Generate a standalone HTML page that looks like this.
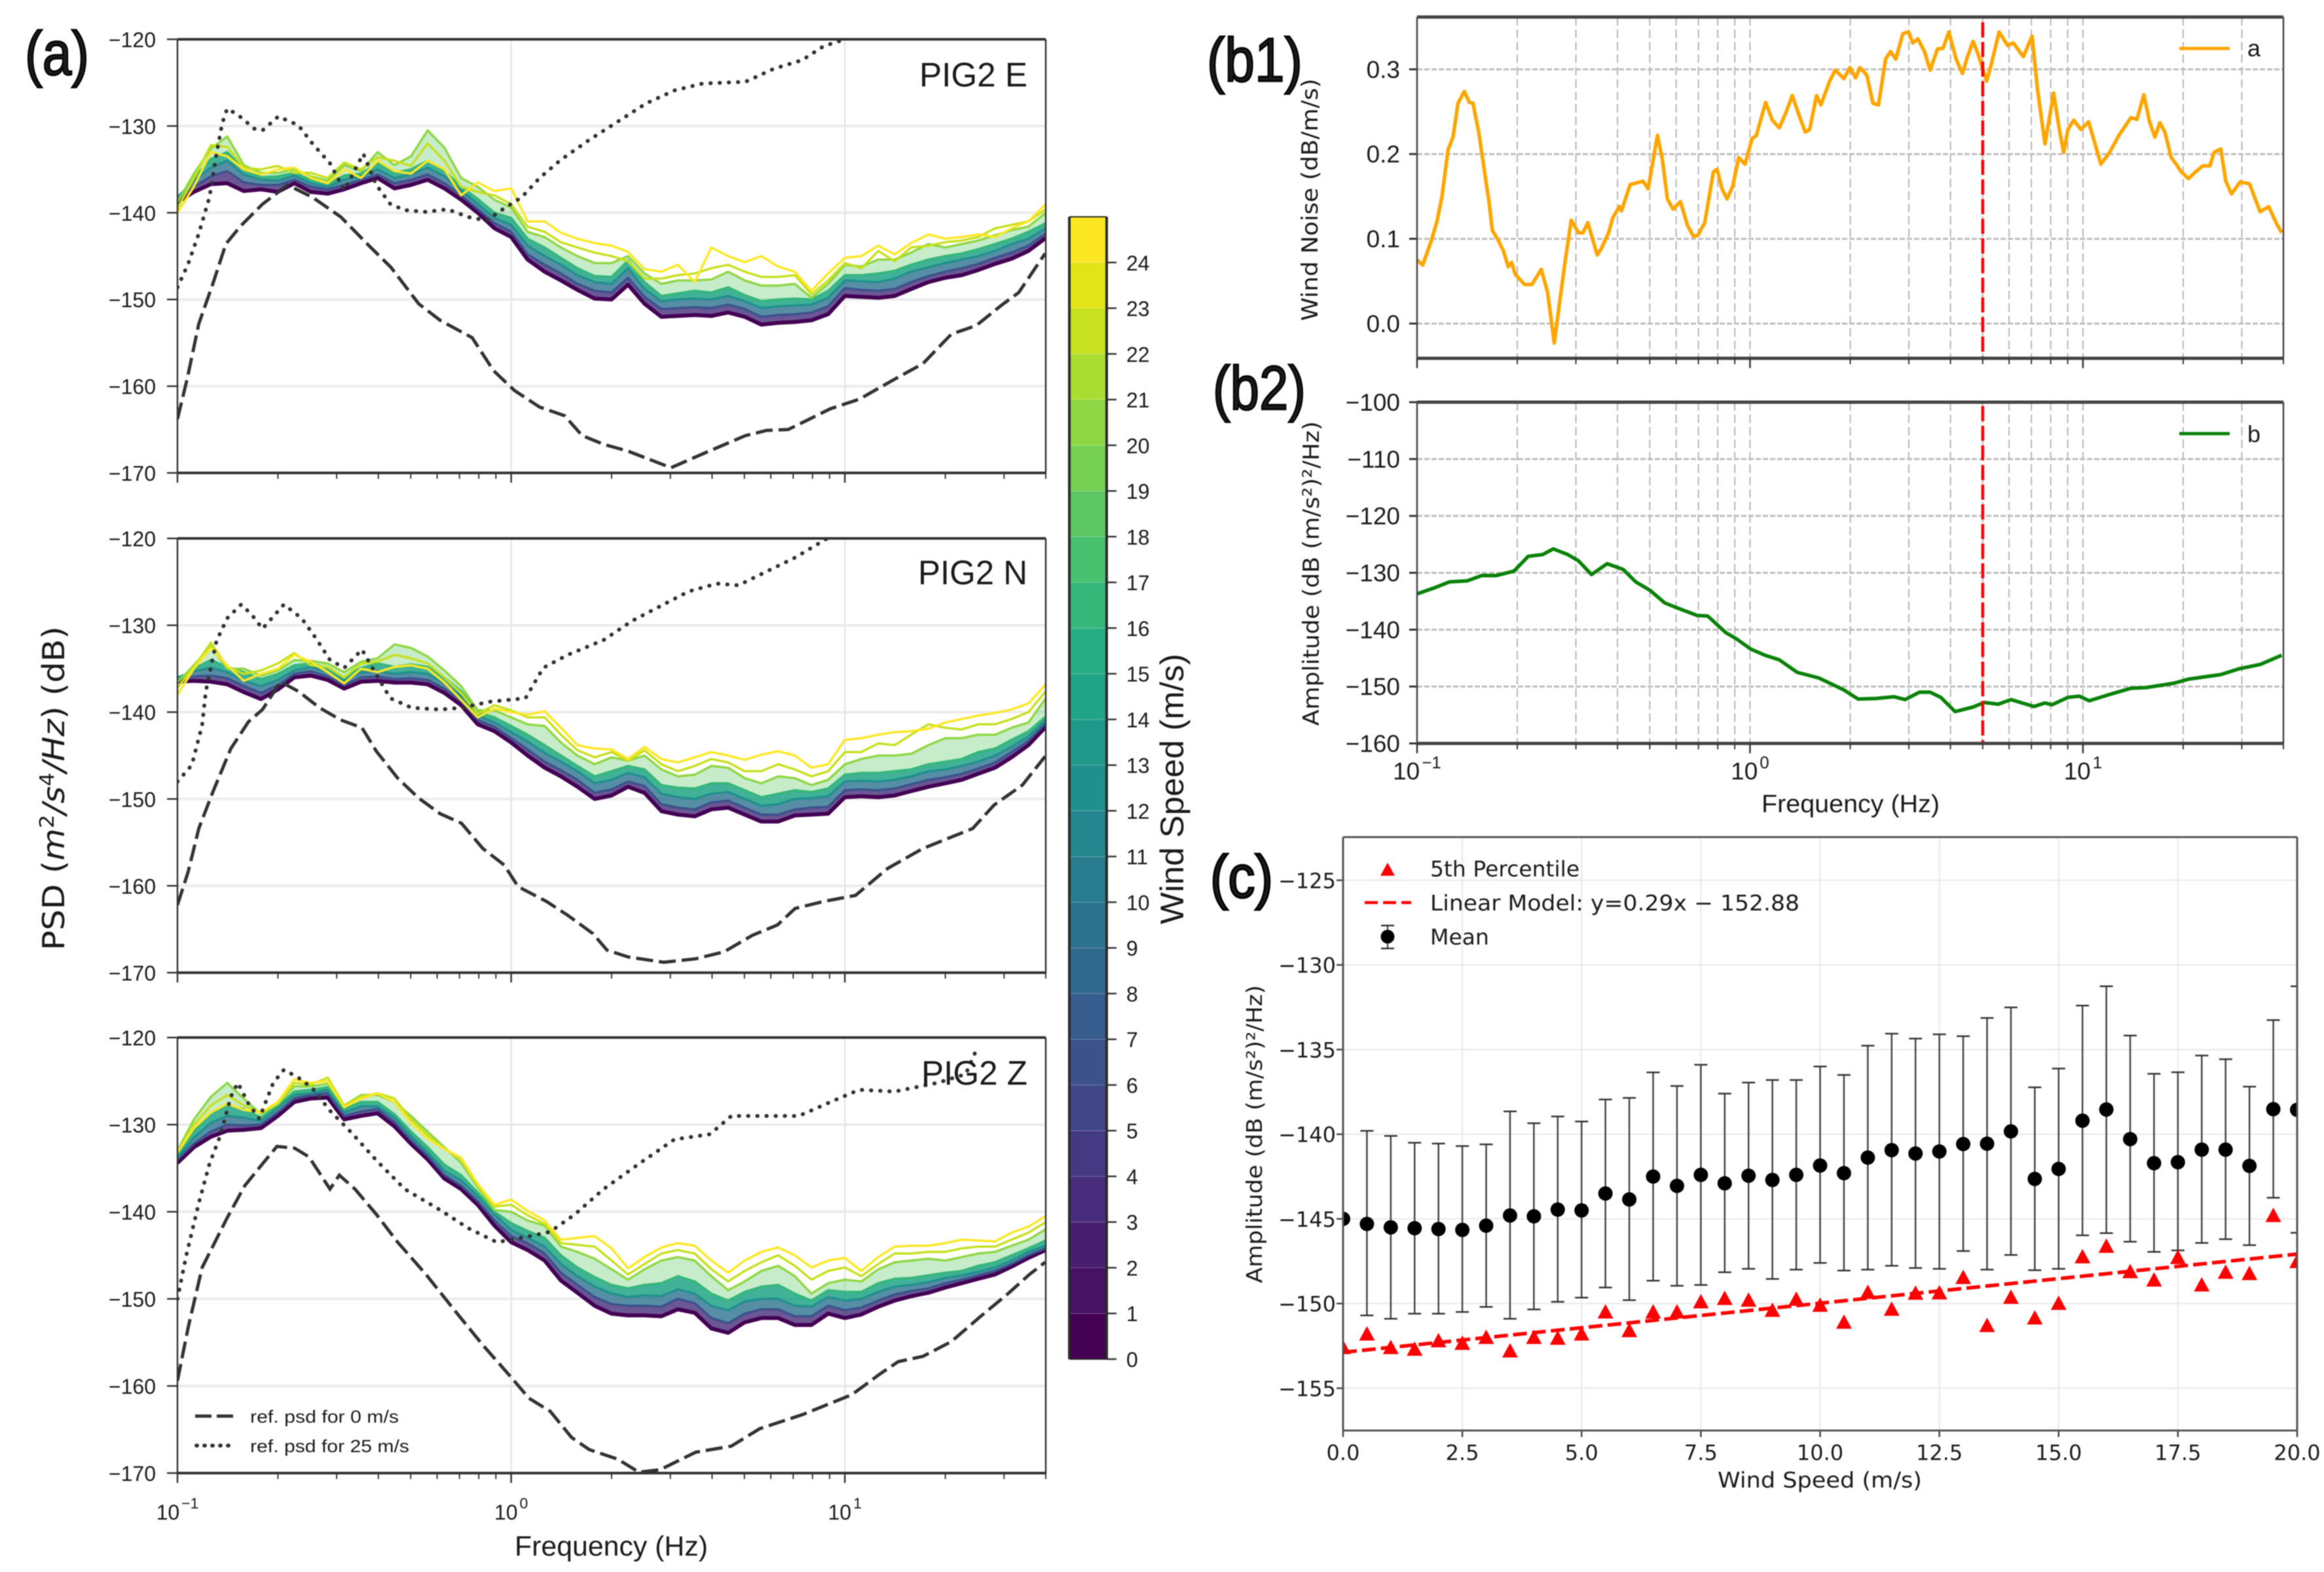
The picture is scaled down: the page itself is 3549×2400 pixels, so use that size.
<!DOCTYPE html>
<html lang="en"><head><meta charset="utf-8"><title>Wind noise PSD figure</title>
<style>html,body{margin:0;padding:0;background:#fff}svg{display:block;filter:blur(0.8px)}text{font-family:"Liberation Sans",sans-serif;fill:#1a1a1a}.dj{font-family:"DejaVu Sans",sans-serif}</style></head>
<body>
<svg id="fig" xmlns="http://www.w3.org/2000/svg" width="3549" height="2400" viewBox="0 0 3549 2400">
<defs>
<clipPath id="clipE"><rect x="271" y="60" width="1326" height="662"/></clipPath>
<clipPath id="clipN"><rect x="271" y="822" width="1326" height="663"/></clipPath>
<clipPath id="clipZ"><rect x="271" y="1584" width="1326" height="665"/></clipPath>
<clipPath id="clipB1"><rect x="2164" y="26" width="1323" height="521"/></clipPath>
<clipPath id="clipB2"><rect x="2164" y="614" width="1323" height="521"/></clipPath>
<clipPath id="clipC"><rect x="2051" y="1278" width="1457" height="906"/></clipPath>
</defs>
<rect x="0" y="0" width="3549" height="2400" fill="#fff"/>
<g id="panelE"></g>
<g id="panelN"></g>
<g id="panelZ"></g>
<g id="colorbar"></g>
<g id="panelB1"></g>
<g id="panelB2"></g>
<g id="panelC"></g>

<text x="38" y="114" font-size="95" textLength="98" lengthAdjust="spacingAndGlyphs" stroke="#000" stroke-width="2.5">(a)</text>
<text x="1843" y="124" font-size="95" textLength="146" lengthAdjust="spacingAndGlyphs" stroke="#000" stroke-width="2.5">(b1)</text>
<text x="1852" y="625" font-size="95" textLength="142" lengthAdjust="spacingAndGlyphs" stroke="#000" stroke-width="2.5">(b2)</text>
<text x="1848" y="1370" font-size="92" textLength="96" lengthAdjust="spacingAndGlyphs" stroke="#000" stroke-width="3">(c)</text>

<text x="1404" y="132" font-size="52" textLength="165" lengthAdjust="spacingAndGlyphs">PIG2 E</text>
<text x="1402" y="892" font-size="52" textLength="167" lengthAdjust="spacingAndGlyphs">PIG2 N</text>
<text x="1407" y="1656" font-size="52" textLength="162" lengthAdjust="spacingAndGlyphs">PIG2 Z</text>

<text class="dj" transform="translate(98,1451) rotate(-90)" font-size="46" textLength="495" lengthAdjust="spacingAndGlyphs">PSD (<tspan font-style="italic">m</tspan><tspan font-size="30" dy="-16">2</tspan><tspan font-style="italic" dy="16">/s</tspan><tspan font-size="30" dy="-16">4</tspan><tspan font-style="italic" dy="16">/Hz</tspan>) (dB)</text>
<text x="786" y="2375" font-size="43" textLength="295" lengthAdjust="spacingAndGlyphs">Frequency (Hz)</text>
<text transform="translate(1807,1411) rotate(-90)" font-size="50" textLength="413" lengthAdjust="spacingAndGlyphs">Wind Speed (m/s)</text>

<g>
<line x1="298" y1="2162" x2="356" y2="2162" stroke="#333" stroke-width="5" stroke-dasharray="25 8"/>
<text x="382" y="2172" font-size="27" textLength="227" lengthAdjust="spacingAndGlyphs">ref. psd for 0 m/s</text>
<line x1="300" y1="2207" x2="356" y2="2207" stroke="#333" stroke-width="6" stroke-linecap="round" stroke-dasharray="1 11"/>
<text x="382" y="2217" font-size="27" textLength="243" lengthAdjust="spacingAndGlyphs">ref. psd for 25 m/s</text>
</g>

<text class="dj" transform="translate(2012,490) rotate(-90)" font-size="34" textLength="370" lengthAdjust="spacingAndGlyphs">Wind Noise (dB/m/s)</text>
<text class="dj" transform="translate(2014,1108) rotate(-90)" font-size="34" textLength="465" lengthAdjust="spacingAndGlyphs">Amplitude (dB (m/s²)²/Hz)</text>
<text x="2690" y="1240" font-size="38" textLength="272" lengthAdjust="spacingAndGlyphs">Frequency (Hz)</text>
<g>
<line x1="3328" y1="74" x2="3405" y2="74" stroke="#ffa500" stroke-width="5"/>
<text x="3432" y="86" font-size="36">a</text>
</g>
<g>
<line x1="3328" y1="662" x2="3405" y2="662" stroke="#0a820a" stroke-width="5"/>
<text x="3432" y="675" font-size="36">b</text>
</g>

<text class="dj" transform="translate(1927,1959) rotate(-90)" font-size="33" textLength="455" lengthAdjust="spacingAndGlyphs">Amplitude (dB (m/s²)²/Hz)</text>
<text class="dj" x="2623" y="2271" font-size="33" textLength="312" lengthAdjust="spacingAndGlyphs">Wind Speed (m/s)</text>
<g>
<polygon points="2119,1317 2130,1337 2108,1337" fill="#f00"/>
<text class="dj" x="2184" y="1338" font-size="33">5th Percentile</text>
<line x1="2084" y1="1378" x2="2155" y2="1378" stroke="#f00" stroke-width="4.5" stroke-dasharray="20 8"/>
<text class="dj" x="2184" y="1390" font-size="33" textLength="564" lengthAdjust="spacingAndGlyphs">Linear Model: y=0.29x − 152.88</text>
<line x1="2119" y1="1413" x2="2119" y2="1448" stroke="#333" stroke-width="2"/>
<line x1="2109" y1="1413" x2="2129" y2="1413" stroke="#333" stroke-width="2.5"/>
<line x1="2109" y1="1448" x2="2129" y2="1448" stroke="#333" stroke-width="2.5"/>
<circle cx="2119" cy="1430" r="10.5" fill="#000"/>
<text class="dj" x="2184" y="1442" font-size="33">Mean</text>
</g>
</svg>
<script>
// ---------- Panel (a): shared frequency grid (Hz) ----------
const windFreqHz = [0.1,0.112,0.126,0.141,0.158,0.178,0.2,0.224,0.251,0.282,0.316,0.355,0.398,0.447,0.501,0.562,0.631,0.708,0.794,0.891,1,1.12,1.26,1.41,1.58,1.78,2,2.24,2.51,2.82,3.16,3.55,3.98,4.47,5.01,5.62,6.31,7.08,7.94,8.91,10,11.2,12.6,14.1,15.8,17.8,20,22.4,25.1,28.2,31.6,35.5,40];
const windLevels = [0,6,12,16,20,22,24];
const viridis = ["#440154","#471164","#481f70","#472d7b","#443a83","#404688","#3b528b","#365d8d","#31688e","#2c728e","#287c8e","#24868e","#21908c","#1f9a8a","#20a486","#27ad81","#35b779","#47c16e","#5dc863","#75d054","#8fd744","#aadc32","#c7e020","#e3e418","#fde725"];

// East
const eW0 = [-138.8,-137.6,-136.7,-136.6,-137.5,-137.3,-137.6,-136.6,-137.6,-137.8,-137.3,-136.6,-136,-137.2,-136.8,-136.2,-137.2,-138.5,-140,-141.8,-142.8,-145.4,-146.8,-147.8,-148.9,-149.9,-150,-148.3,-150.5,-152,-151.9,-151.8,-151.9,-151.5,-152,-152.9,-152.7,-152.6,-152.4,-151.7,-149.6,-149.7,-149.8,-149.6,-148.8,-148,-147.5,-147.2,-146.6,-145.9,-145.3,-144.4,-142.9];
const eW6 = [-138.5,-137,-135.8,-135.2,-136.5,-136.8,-136.8,-136.2,-137,-137.3,-136.8,-136.2,-135.6,-136.6,-136.2,-135.6,-136.6,-138,-139.6,-141.2,-142.2,-144.8,-146,-147,-148.2,-149,-149.2,-147.5,-149.7,-151.1,-151,-150.9,-151,-150.6,-151.1,-152,-151.8,-151.7,-151.5,-150.8,-148.7,-148.9,-149,-148.8,-148,-147.3,-146.8,-146.4,-145.9,-145.2,-144.6,-143.8,-142.4];
const eW12 = [-138.2,-136.3,-134.8,-134,-135.6,-136.2,-136.3,-135.7,-136.6,-137,-136.2,-135.8,-135,-136,-135.6,-134.8,-135.8,-137.4,-139,-140.6,-141.4,-143.8,-145,-146,-147.2,-148,-148.2,-146.4,-148.8,-150.2,-150,-149.9,-150,-149.6,-150.2,-151,-150.8,-150.7,-150.6,-149.8,-147.8,-147.9,-148,-147.6,-146.8,-146.3,-145.8,-145.4,-145,-144.4,-143.6,-143,-141.8];
const eW16 = [-138.5,-136,-133.8,-133,-135,-135.9,-135.8,-135.4,-136.2,-136.7,-135.7,-135.5,-134.3,-135.4,-135,-134,-135.2,-137,-138.4,-140,-140.6,-143,-144,-145.2,-146.4,-147.3,-147.4,-145.5,-148,-149.6,-149.3,-149,-149.2,-148.6,-149.5,-150.2,-150,-149.9,-150,-149,-147.2,-147.2,-147,-146.7,-146,-145.4,-145,-144.7,-144.2,-143.6,-143,-142.2,-141.2];
const eW20 = [-138.8,-135.5,-132.6,-131.2,-134.5,-135.4,-135.4,-135,-135.8,-136.3,-134.5,-135.2,-133,-134.5,-133.5,-130.5,-132.5,-136,-137,-138.5,-139.4,-142.2,-142.8,-144,-145,-145.8,-145.8,-145,-147,-148.2,-147.8,-147.8,-147.7,-146.8,-147.8,-148.4,-148.4,-148.2,-149.8,-148.2,-146,-146.2,-145.4,-145.4,-144.6,-143.6,-144,-143.6,-143.2,-142.6,-142,-141.6,-140];
const eW22 = [-139.5,-136,-132.2,-132.4,-134.8,-135,-134.6,-135.4,-135.4,-136,-134.2,-135,-133.6,-134,-134.6,-132,-134,-137,-137.6,-138,-139,-141.6,-142.2,-143.4,-144,-144.6,-145,-145.6,-147.6,-147.6,-147.2,-147,-146.4,-146,-146.8,-147.4,-147.4,-147.2,-149.4,-147.8,-145.8,-146.4,-144.4,-145.6,-144,-143.8,-143.4,-143.2,-142.8,-141.8,-141.4,-141,-139.6];
const eW24 = [-140,-137,-133,-133.5,-135,-135.6,-135,-134.8,-136,-136.6,-135,-136,-134,-135.2,-135.5,-134,-135,-138,-136.5,-137.5,-137.2,-141,-141,-142.3,-143,-143.5,-143.8,-144.5,-146.5,-146.8,-146,-148,-144,-145,-145.7,-145,-146.2,-146.8,-149,-147,-145.2,-145,-143.8,-144.8,-143.5,-142.5,-143,-142.8,-142.5,-142.8,-141.8,-141,-139];
const eRefDashExp = [-1,-.97,-.936,-.894,-.855,-.81,-.745,-.67,-.596,-.51,-.426,-.36,-.277,-.213,-.117,-.053,.01,.085,.16,.213,.277,.351,.479,.574,.702,.766,.83,.957,1.043,1.149,1.234,1.319,1.394,1.468,1.521,1.6];
const eRefDashDb = [-163.8,-159,-152.8,-148.2,-143.6,-141.5,-139,-136.8,-138.2,-140.5,-143.8,-146.3,-150.5,-152.4,-154.4,-158.2,-160.5,-162.4,-163.4,-165.7,-166.7,-167.5,-169.4,-167.8,-165.7,-165.1,-165,-162.6,-161.5,-159.2,-157.4,-154,-153,-150.7,-149.2,-144.7];
const eRefDotExp = [-1,-.968,-.936,-.904,-.883,-.866,-.851,-.819,-.77,-.745,-.698,-.638,-.596,-.543,-.5,-.443,-.404,-.362,-.319,-.255,-.191,-.128,-.074,-.021,.032,.085,.149,.234,.319,.404,.489,.574,.702,.787,.872,.936,1,1.1];
const eRefDotDb = [-148.6,-145.9,-142.4,-138.2,-133.2,-129.7,-128,-128.7,-130.3,-130.5,-128.9,-129.9,-132,-134.3,-137.4,-133.2,-136.8,-139,-139.7,-139.9,-139.6,-140.5,-140.9,-139.5,-138.2,-136,-133.9,-131.6,-129.5,-127.4,-125.9,-125.1,-124.9,-123.4,-122.4,-120.8,-120,-118.5];

// North
const nW0 = [-136.5,-136.4,-136.5,-136.8,-137.7,-138.5,-137.4,-136,-135.8,-136.3,-137.3,-136.5,-136.4,-136.6,-136.6,-136.8,-137.8,-139.2,-141.4,-142.2,-143.5,-145,-146.4,-147.4,-148.6,-150,-149.6,-148.6,-149.3,-151.4,-151.8,-152,-151.2,-151,-151.8,-152.6,-152.6,-151.9,-151.8,-151.7,-149.8,-149.7,-149.8,-149.6,-149.1,-148.6,-148.2,-147.8,-147.1,-146.4,-145.2,-143.8,-141.7];
const nW6 = [-136.2,-135.9,-135.8,-136.1,-137,-137.8,-136.9,-135.6,-135.3,-135.9,-136.9,-136,-135.9,-136.2,-136.1,-136.3,-137.3,-138.7,-140.9,-141.7,-143,-144.3,-145.7,-146.7,-147.8,-149.3,-148.9,-148,-148.5,-150.6,-151,-151.2,-150.4,-150.2,-151,-151.8,-151.8,-151.2,-151,-150.9,-149,-148.9,-149,-148.8,-148.3,-147.8,-147.5,-147.1,-146.5,-145.8,-144.6,-143.3,-141.3];
const nW12 = [-136,-135.3,-134.9,-135.4,-136.4,-137,-136.3,-135.2,-134.8,-135.4,-136.4,-135.4,-135.3,-135.6,-135.4,-135.6,-136.7,-138.2,-140.4,-141.2,-142.3,-143.4,-144.7,-145.7,-146.8,-148.2,-147.8,-147,-147.5,-149.4,-149.8,-150,-149.4,-149.2,-150,-150.8,-150.6,-150,-149.9,-149.7,-148,-147.9,-148,-147.8,-147.4,-146.8,-146.6,-146.2,-145.7,-145,-144,-142.8,-140.9];
const nW16 = [-136.2,-135,-134,-134.8,-135.4,-136.2,-135.6,-134.6,-134.4,-134.9,-136,-134.9,-134.4,-134.8,-134.5,-134.8,-136,-137.6,-140,-140.6,-141.6,-142.6,-143.8,-145,-146.2,-147.4,-146.8,-146.2,-146.6,-148.4,-148.7,-148.8,-148.2,-148.2,-149,-149.8,-149.4,-149,-149.2,-148.8,-147.2,-147,-147,-146.8,-146.6,-146,-145.7,-145.4,-144.6,-144.2,-143.2,-142.2,-140.5];
const nW20 = [-136.6,-134.6,-132.4,-135,-135,-135.8,-135.2,-134,-134.1,-134.4,-135.4,-134.2,-133.8,-132.2,-132.6,-133.6,-135.2,-137,-139.8,-139.8,-140.6,-141.4,-141.6,-143.5,-145,-146,-145.2,-145.6,-145,-146.6,-147.4,-147.2,-146.2,-146.4,-147.6,-148.2,-147.4,-147.6,-148.4,-147.8,-146,-145.4,-145,-145,-144.8,-143.8,-143,-143,-142.6,-142.6,-141.8,-141.2,-138.4];
const nW22 = [-137.2,-134.8,-132,-134.8,-135.6,-135.2,-134.4,-133.2,-134.6,-134.8,-136,-134.4,-134.2,-133.4,-133.8,-134.4,-136,-137.8,-140.2,-139.2,-139.8,-140.6,-140.6,-142.6,-144.4,-145.2,-144.6,-145.6,-144.4,-146,-146.8,-146.2,-145.4,-145.8,-146.8,-146.8,-146,-146.6,-147.4,-146.8,-144.6,-144.6,-143.6,-143.8,-142.6,-141.4,-141.8,-142,-141.4,-141.4,-140.8,-140,-137.6];
const nW24 = [-138,-135,-132.6,-134.6,-136.4,-135.6,-135,-133.4,-134.2,-135.4,-136.7,-135,-135.4,-134.8,-134.6,-135,-136.6,-138.6,-140.6,-139.6,-140,-140.3,-139.9,-141.8,-143.8,-144.2,-144.3,-145.4,-144,-145.4,-145.8,-145.2,-144.6,-145,-145.5,-144.9,-144.5,-145,-146.4,-146,-143.2,-143,-142.6,-142.3,-142.2,-141.9,-141.2,-140.8,-140.4,-140.1,-139.7,-139,-136.8];
const nRefDashExp = [-1,-.968,-.936,-.894,-.84,-.787,-.745,-.691,-.638,-.574,-.511,-.447,-.404,-.34,-.277,-.213,-.149,-.085,-.021,.021,.106,.17,.245,.287,.351,.457,.553,.638,.723,.798,.851,.936,1.032,1.128,1.234,1.383,1.447,1.532,1.6];
const nRefDashDb = [-162.2,-158.4,-153.4,-149.2,-144.2,-141.1,-139.7,-136.5,-137.6,-139.5,-140.9,-141.8,-144.5,-147.6,-149.9,-151.7,-152.8,-155.7,-157.6,-160.1,-161.8,-163.4,-165.5,-167.4,-168.2,-168.8,-168.4,-167.6,-165.7,-164.5,-162.6,-161.8,-161.1,-158,-155.7,-153.4,-150.7,-148.4,-145.1];
const nRefDotExp = [-1,-.957,-.926,-.915,-.883,-.851,-.809,-.777,-.745,-.681,-.628,-.585,-.543,-.5,-.447,-.404,-.362,-.298,-.213,-.149,-.064,.043,.096,.17,.277,.362,.447,.532,.617,.681,.766,.851,.947,1.1];
const nRefDotDb = [-148,-146.1,-141.5,-137.6,-131.8,-129.2,-127.6,-128.8,-130.4,-127.6,-129.2,-131.5,-134,-134.9,-132.8,-135.7,-138.4,-139.5,-139.7,-139.5,-138.8,-138.4,-134.9,-133.4,-131.7,-129.5,-127.8,-126.1,-125.2,-125.4,-123.8,-122.2,-120,-118];

// Vertical
const zW0 = [-134.4,-132.6,-131.4,-130.7,-130.6,-130.4,-129,-127.4,-127,-126.9,-129.4,-129,-128.7,-130.2,-132.2,-134,-136.2,-137.4,-139.2,-141.6,-143.5,-144.4,-145.6,-147.9,-149.3,-150.8,-151.7,-151.9,-151.9,-152,-151.2,-151.6,-153.4,-153.9,-152.7,-152.2,-152.2,-153,-153,-151.7,-152.2,-151.8,-150.9,-150.2,-149.7,-149.3,-148.7,-148.2,-147.7,-147.2,-146.3,-145.3,-144.4];
const zW6 = [-134,-132.2,-130.8,-130,-130.1,-130,-128.6,-127,-126.6,-126.4,-129,-128.5,-128.2,-129.7,-131.8,-133.6,-135.8,-137,-138.8,-141,-142.8,-143.6,-144.8,-147,-148.4,-149.8,-150.6,-150.8,-150.8,-150.9,-150,-150.5,-152.2,-152.8,-151.7,-151.2,-151.2,-152,-152,-150.8,-151.3,-151,-150.2,-149.5,-149.1,-148.8,-148.2,-147.8,-147.3,-146.8,-146,-145,-144.2];
const zW12 = [-133.8,-131.5,-129.8,-129,-129.2,-129.6,-128,-126.6,-126.4,-126,-128.6,-127.9,-127.9,-129.2,-131.3,-133.2,-135.3,-136.4,-138.2,-140.3,-142.1,-143,-144,-146,-147.4,-148.6,-149.4,-149.8,-149.6,-149.7,-148.9,-149.4,-150.8,-151.3,-150.3,-150,-150,-150.8,-150.9,-149.8,-150.2,-150,-149.2,-148.6,-148.4,-148.1,-147.6,-147.3,-146.9,-146.4,-145.6,-144.6,-143.9];
const zW16 = [-133.4,-130.8,-128.6,-127.8,-128.2,-129.2,-127.8,-126.2,-126,-125.7,-128.2,-127.4,-127.4,-128.8,-130.8,-132.6,-134.6,-135.8,-137.8,-140,-141.3,-142.2,-143,-145,-146.4,-147.5,-148.4,-148.8,-148.4,-148.2,-147.4,-148,-149.4,-150.2,-149.2,-148.6,-148.4,-149.4,-150.2,-149,-149.2,-149.2,-148.2,-147.7,-147.6,-147.3,-147,-146.8,-146.2,-145.8,-145,-144.2,-143.3];
const zW20 = [-133,-129.4,-126.8,-125.2,-127,-128.8,-127.6,-125.6,-125.6,-125.3,-127.8,-126.6,-126.6,-127.4,-129,-130.8,-132.6,-134.4,-137.2,-139.8,-140,-141,-141.6,-144,-144.6,-145.4,-146.6,-147.8,-146.6,-145.6,-145.2,-145.6,-147.4,-149,-148,-146.8,-146.2,-147.4,-149.4,-148.2,-147.8,-148,-146.6,-145.8,-145.6,-145.4,-145.6,-145.2,-144.8,-144.6,-143.9,-143.2,-142];
const zW22 = [-133.2,-130,-127.8,-126.6,-127.8,-128.6,-127.6,-125.2,-125.4,-124.6,-127.8,-126.8,-126.4,-127,-129.4,-131.2,-132.8,-134,-137,-139.4,-139.2,-140.4,-141.4,-143.6,-143.8,-144,-145.6,-147.2,-146,-144.8,-144.4,-144.8,-146.6,-148,-146.8,-145.8,-145,-146.2,-147.8,-146.8,-146.4,-147.4,-146,-144.8,-144.8,-144.6,-144.6,-144.2,-144,-144,-143.2,-142.4,-141.2];
const zW24 = [-133.2,-130.4,-128.6,-127.6,-128.3,-128.6,-127.4,-124.8,-125.2,-125,-128,-127,-126.4,-127.4,-129.8,-131.6,-132.8,-133.8,-136.8,-139.2,-138.6,-139.9,-141,-143.2,-143,-142.8,-144.2,-146.5,-145.2,-144.1,-143.6,-143.9,-145.6,-147,-145.6,-144.6,-144.1,-145,-146.4,-145.6,-145.3,-146.8,-145.2,-144,-143.9,-143.9,-143.6,-143.2,-143.3,-143.4,-142.4,-141.7,-140.5];
const zRefDashExp = [-1,-.968,-.926,-.851,-.798,-.745,-.702,-.649,-.606,-.543,-.515,-.468,-.404,-.34,-.255,-.17,-.085,0,.053,.117,.181,.234,.319,.383,.447,.553,.66,.745,.872,1.021,1.106,1.16,1.234,1.319,1.404,1.489,1.553,1.6];
const zRefDashDb = [-159.4,-153.3,-146.4,-140.7,-137,-134.5,-132.5,-132.7,-133.7,-137.4,-135.8,-137.4,-140.3,-143.5,-147.2,-151.3,-155.3,-159,-161.4,-162.9,-165.9,-167.3,-168.4,-169.9,-169.6,-167.6,-166.9,-164.9,-163.3,-161,-158.6,-157.2,-156.6,-154.9,-152.1,-149.4,-147.2,-145.8];
const zRefDotExp = [-1,-.974,-.936,-.904,-.872,-.84,-.819,-.787,-.755,-.713,-.681,-.638,-.596,-.543,-.479,-.404,-.319,-.213,-.128,-.043,.043,.117,.191,.277,.383,.489,.596,.66,.766,.862,.957,1.043,1.149,1.277,1.362,1.4];
const zRefDotDb = [-150,-145.1,-139,-134.5,-131.3,-126.8,-125.2,-127.6,-129.3,-125.2,-123.7,-124.6,-125.8,-128.4,-130.9,-134.1,-137.4,-139.8,-141.9,-143.5,-142.9,-142.3,-140.3,-137.4,-134.5,-131.7,-131.1,-129,-129,-129,-127.4,-126,-126.2,-125.2,-124.2,-120.9];

const dbTicksA = [-120,-130,-140,-150,-160,-170];
const decadeExps = [-1,0,1];
const decadeSup = ["−1","0","1"];
const colorbarTicks = [0,1,2,3,4,5,6,7,8,9,10,11,12,13,14,15,16,17,18,19,20,21,22,23,24];

// ---------- Panel (b1) ----------
const b1Exp = [-1,-.983,-.957,-.94,-.925,-.907,-.892,-.877,-.858,-.843,-.832,-.815,-.8,-.784,-.774,-.756,-.741,-.726,-.716,-.705,-.677,-.655,-.627,-.608,-.588,-.573,-.554,-.537,-.515,-.502,-.487,-.459,-.446,-.425,-.412,-.392,-.386,-.36,-.321,-.306,-.278,-.263,-.248,-.231,-.209,-.188,-.17,-.157,-.136,-.11,-.099,-.084,-.069,-.052,-.034,-.015,.006,.019,.047,.067,.088,.106,.127,.149,.166,.179,.2,.213,.239,.256,.282,.3,.317,.33,.351,.369,.386,.407,.422,.438,.459,.476,.489,.504,.524,.541,.563,.58,.597,.619,.638,.653,.67,.685,.711,.724,.748,.774,.791,.821,.847,.864,.886,.912,.929,.942,.955,.972,.994,1.017,1.054,1.08,1.108,1.144,1.162,1.183,1.2,1.216,1.231,1.246,1.265,1.28,1.295,1.317,1.338,1.36,1.381,1.394,1.414,1.429,1.446,1.472,1.5,1.532,1.558,1.58,1.597];
const b1Noise = [.075,.069,.098,.121,.15,.205,.22,.26,.274,.261,.26,.226,.186,.144,.11,.098,.086,.067,.072,.058,.046,.046,.064,.037,-.023,.022,.077,.122,.107,.107,.119,.081,.089,.107,.125,.138,.133,.164,.168,.159,.222,.193,.147,.135,.144,.116,.103,.104,.119,.179,.182,.159,.147,.162,.196,.188,.218,.222,.261,.24,.231,.247,.269,.244,.226,.229,.269,.258,.286,.299,.289,.302,.29,.302,.293,.26,.258,.312,.321,.312,.342,.344,.331,.336,.321,.299,.324,.325,.344,.312,.295,.315,.333,.318,.286,.305,.344,.328,.331,.315,.339,.275,.212,.272,.229,.202,.229,.24,.229,.238,.188,.202,.222,.243,.241,.27,.238,.22,.237,.226,.196,.188,.179,.171,.179,.186,.186,.202,.206,.168,.153,.167,.165,.132,.138,.119,.107];
const b1Ticks = [0,0.1,0.2,0.3];
const b1TickLabels = ["0.0","0.1","0.2","0.3"];
const cutoffHz = 5;

// ---------- Panel (b2) ----------
const b2Exp = [-1,-.946,-.903,-.849,-.806,-.763,-.709,-.666,-.623,-.591,-.547,-.515,-.476,-.429,-.381,-.343,-.3,-.256,-.213,-.159,-.127,-.073,-.041,.002,.045,.088,.142,.207,.282,.325,.379,.433,.466,.509,.541,.573,.616,.67,.703,.746,.784,.853,.886,.907,.955,.989,1.019,1.08,1.144,1.188,1.274,1.317,1.414,1.468,1.533,1.597];
const b2Amp = [-133.7,-132.6,-131.6,-131.4,-130.5,-130.5,-129.7,-127.1,-126.8,-125.8,-126.8,-127.9,-130.3,-128.4,-129.4,-131.6,-133.1,-135.3,-136.3,-137.5,-137.6,-140.5,-141.6,-143.4,-144.5,-145.3,-147.5,-148.5,-150.6,-152.2,-152.1,-151.8,-152.3,-151,-151,-151.9,-154.4,-153.6,-152.8,-153.1,-152.3,-153.5,-152.9,-153.2,-151.9,-151.7,-152.5,-151.4,-150.3,-150.2,-149.4,-148.7,-147.9,-146.9,-146.1,-144.5];
const b2Ticks = [-100,-110,-120,-130,-140,-150,-160];
const b2TickLabels = ["−100","−110","−120","−130","−140","−150","−160"];

// ---------- Panel (c) ----------
const cWind = [0,.5,1,1.5,2,2.5,3,3.5,4,4.5,5,5.5,6,6.5,7,7.5,8,8.5,9,9.5,10,10.5,11,11.5,12,12.5,13,13.5,14,14.5,15,15.5,16,16.5,17,17.5,18,18.5,19,19.5,20];
const cMean = [-145,-145.3,-145.5,-145.55,-145.6,-145.65,-145.4,-144.8,-144.85,-144.45,-144.5,-143.5,-143.85,-142.5,-143.05,-142.4,-142.9,-142.45,-142.7,-142.4,-141.85,-142.3,-141.38,-140.94,-141.14,-141.02,-140.58,-140.56,-139.83,-142.64,-142.05,-139.2,-138.54,-140.29,-141.71,-141.65,-140.91,-140.91,-141.87,-138.52,-138.56];
const cUpper = [null,-139.8,-140.1,-140.5,-140.55,-140.7,-140.6,-138.65,-139.35,-138.95,-139.25,-137.95,-137.85,-136.35,-137.15,-135.9,-137.6,-136.95,-136.8,-136.8,-136,-136.5,-134.77,-134.06,-134.35,-134.1,-134.21,-133.13,-132.51,-137.23,-136.12,-132.4,-131.26,-134.17,-136.43,-136.34,-135.35,-135.57,-137.19,-133.26,-131.26];
const cLower = [null,-150.7,-150.9,-150.6,-150.6,-150.5,-150.2,-150.9,-150.35,-149.9,-149.65,-149.05,-149.8,-148.65,-148.95,-148.9,-148.15,-147.95,-148.55,-148,-147.6,-148.05,-148,-147.77,-147.9,-147.95,-146.9,-148,-147.13,-148.03,-147.95,-145.97,-145.84,-146.35,-146.95,-146.86,-146.42,-146.2,-146.55,-143.75,-145.82];
const cP5 = [-152.6,-151.8,-152.6,-152.7,-152.2,-152.35,-152,-152.8,-152,-152.05,-151.8,-150.5,-151.6,-150.5,-150.5,-149.9,-149.7,-149.8,-150.4,-149.75,-150.1,-151.1,-149.34,-150.34,-149.39,-149.37,-148.46,-151.3,-149.63,-150.85,-149.99,-147.24,-146.62,-148.12,-148.61,-147.28,-148.9,-148.15,-148.23,-144.8,-147.52];
const cFitSlope = 0.29;
const cFitIntercept = -152.88;
const cFitRange = [0,20];
const cYTicks = [-125,-130,-135,-140,-145,-150,-155];
const cYTickLabels = ["−125","−130","−135","−140","−145","−150","−155"];
const cXTicks = [0,2.5,5,7.5,10,12.5,15,17.5,20];
const cXTickLabels = ["0.0","2.5","5.0","7.5","10.0","12.5","15.0","17.5","20.0"];

// ---------- Drawing helpers ----------
const NS = "http://www.w3.org/2000/svg";
function add(parent, tag, attrs, text) {
  const n = document.createElementNS(NS, tag);
  for (const k in attrs) n.setAttribute(k, attrs[k]);
  if (text !== undefined) n.textContent = text;
  parent.appendChild(n);
  return n;
}
function logScale(box) {
  return function (exp) {
    return box.left + (exp + 1) * (box.right - box.left) / (Math.log10(40) + 1);
  };
}
function linScale(box, vTop, vBottom) {
  return function (v) {
    return box.top + (v - vTop) * (box.bottom - box.top) / (vBottom - vTop);
  };
}
function pathOf(xs, ys, X, Y) {
  let d = "";
  const n = Math.min(xs.length, ys.length);
  for (let i = 0; i < n; i++) d += (i ? "L" : "M") + X(xs[i]).toFixed(1) + " " + Y(ys[i]).toFixed(1);
  return d;
}
function drawLogTicks(g, box, X, withLabels, fontSize, supSize, baseline, supDy) {
  for (let di = 0; di < decadeExps.length; di++) {
    for (let m = 1; m < 10; m++) {
      const exp = decadeExps[di] + Math.log10(m);
      if (exp > Math.log10(40) + 1e-6) continue;
      const tk = add(g, "line", {x1: X(exp), x2: X(exp), y1: box.bottom, y2: box.bottom + (m === 1 ? 15 : 9), stroke: "#333", "stroke-width": m === 1 ? 2.5 : 2});
      
      
    }
    if (withLabels) {
      const t = add(g, "text", {x: X(decadeExps[di]), y: baseline, "font-size": fontSize, "text-anchor": "middle"}, "10");
      
      
      add(t, "tspan", {dy: supDy, dx: 3, "font-size": supSize}, decadeSup[di]);
    }
  }
}
function drawSpines(g, box, hw, vw, color) {
  const sides = [["spine-top", box.left, box.top, box.right, box.top, hw], ["spine-bottom", box.left, box.bottom, box.right, box.bottom, hw], ["spine-left", box.left, box.top, box.left, box.bottom, vw], ["spine-right", box.right, box.top, box.right, box.bottom, vw]];
  for (const s of sides) {
    const l = add(g, "line", {x1: s[1], y1: s[2], x2: s[3], y2: s[4], stroke: color, "stroke-width": s[5]});
    
    
  }
}

// ---------- Panel (a) ----------
function drawPanelA(gid, clip, box, series, dashExp, dashDb, dotExp, dotDb, withLabels) {
  const g = document.getElementById(gid);
  const X = logScale(box);
  const Y = linScale(box, -120, -170);
  const freqExp = windFreqHz.map(f => Math.log10(f));
  for (const v of dbTicksA) {
    const gl = add(g, "line", {x1: box.left, x2: box.right, y1: Y(v), y2: Y(v), stroke: "#ececec", "stroke-width": 4});
    
    
    const tk = add(g, "line", {x1: box.left - 16, x2: box.left, y1: Y(v), y2: Y(v), stroke: "#333", "stroke-width": 2.5});
    
    
    const lb = add(g, "text", {x: box.left - 33, y: Y(v) + 12, "font-size": 32, "text-anchor": "end"}, "−" + Math.abs(v));
    
    
  }
  for (const e of [0, 1]) {
    const gl = add(g, "line", {x1: X(e), x2: X(e), y1: box.top, y2: box.bottom, stroke: "#e6e6e6", "stroke-width": 2.5});
    
    
  }
  const plot = add(g, "g", {"clip-path": "url(#" + clip + ")"});
  
  
  const fillOpacity = [0.8, 0.8, 0.85, 0.35];
  const fillColor = [viridis[3], viridis[9], viridis[14], viridis[18]];
  for (let s = 0; s < fillOpacity.length; s++) {
    const lo = series[s], hi = series[s + 1];
    let d = pathOf(freqExp, lo, X, Y);
    for (let i = Math.min(hi.length, freqExp.length) - 1; i >= 0; i--) d += "L" + X(freqExp[i]).toFixed(1) + " " + Y(hi[i]).toFixed(1);
    const band = add(plot, "path", {d: d + "Z", fill: fillColor[s], "fill-opacity": fillOpacity[s], stroke: "none"});
    
    
  }
  for (let s = 0; s < series.length; s++) {
    const ln = add(plot, "path", {d: pathOf(freqExp, series[s], X, Y), fill: "none", stroke: viridis[windLevels[s]], "stroke-width": s === 0 ? 6 : 3.5, "stroke-linejoin": "round"});
    
    
  }
  const dash = add(plot, "path", {d: pathOf(dashExp, dashDb, X, Y), fill: "none", stroke: "#333", "stroke-width": 5, "stroke-dasharray": "26 9"});
  
  
  const dot = add(plot, "path", {d: pathOf(dotExp, dotDb, X, Y), fill: "none", stroke: "#333", "stroke-width": 6, "stroke-linecap": "round", "stroke-dasharray": "0.5 13.5"});
  
  
  drawSpines(g, box, 4, 2.5, "#333");
  drawLogTicks(g, box, X, withLabels, 32, 23, box.bottom + 71, -17);
}
drawPanelA("panelE", "clipE", {left: 271, right: 1597, top: 60, bottom: 722}, [eW0, eW6, eW12, eW16, eW20, eW22, eW24], eRefDashExp, eRefDashDb, eRefDotExp, eRefDotDb, false);
drawPanelA("panelN", "clipN", {left: 271, right: 1597, top: 822, bottom: 1485}, [nW0, nW6, nW12, nW16, nW20, nW22, nW24], nRefDashExp, nRefDashDb, nRefDotExp, nRefDotDb, false);
drawPanelA("panelZ", "clipZ", {left: 271, right: 1597, top: 1584, bottom: 2249}, [zW0, zW6, zW12, zW16, zW20, zW22, zW24], zRefDashExp, zRefDashDb, zRefDotExp, zRefDotDb, true);

// ---------- Colorbar ----------
(function () {
  const g = document.getElementById("colorbar");
  const box = {left: 1633, right: 1690, top: 331, bottom: 2075};
  const Y = linScale(box, 25, 0);
  for (const v of colorbarTicks) {
    const band = add(g, "rect", {x: box.left, width: box.right - box.left, y: Y(v + 1), height: Y(v) - Y(v + 1), fill: viridis[v], stroke: "rgba(255,255,255,0.18)", "stroke-width": 1});
    
    
    const tk = add(g, "line", {x1: box.right, x2: box.right + 15, y1: Y(v), y2: Y(v), stroke: "#333", "stroke-width": 2.5});
    
    
    const lb = add(g, "text", {x: box.right + 30, y: Y(v) + 12, "font-size": 32}, String(v));
    
    
  }
  drawSpines(g, box, 2, 4, "#2a2a2a");
})();

// ---------- Panels (b1), (b2) ----------
function drawPanelB(gid, clip, box, vTop, vBottom, ticks, tickLabels, gridTicks, seriesExp, seriesVal, color, lineName, withLabels, redTop) {
  const g = document.getElementById(gid);
  const X = logScale(box);
  const Y = linScale(box, vTop, vBottom);
  for (const de of decadeExps) {
    for (let m = 1; m < 10; m++) {
      const exp = de + Math.log10(m);
      if (exp > Math.log10(40) + 1e-6 || (de === -1 && m === 1)) continue;
      const gl = add(g, "line", {x1: X(exp), x2: X(exp), y1: box.top, y2: box.bottom, stroke: "#b4b4b4", "stroke-width": 2, "stroke-dasharray": "13 6"});
      
      
    }
  }
  for (let i = 0; i < ticks.length; i++) {
    const y = Y(ticks[i]);
    if (gridTicks) {
      const gl = add(g, "line", {x1: box.left, x2: box.right, y1: y, y2: y, stroke: "#bcbcbc", "stroke-width": 3, "stroke-dasharray": "8 3"});
      
      
    }
    const tk = add(g, "line", {x1: box.left - 12, x2: box.left, y1: y, y2: y, stroke: "#333", "stroke-width": 3});
    
    
    const lb = add(g, "text", {x: box.left - 26, y: y + 13, "font-size": 37, "text-anchor": "end"}, tickLabels[i]);
    
    
  }
  const plot = add(g, "g", {"clip-path": "url(#" + clip + ")"});
  
  
  const ln = add(plot, "path", {d: pathOf(seriesExp, seriesVal, X, Y), fill: "none", stroke: color, "stroke-width": 5.5, "stroke-linejoin": "round"});
  
  
  const xc = X(Math.log10(cutoffHz));
  const red = add(plot, "line", {x1: xc, x2: xc, y1: redTop, y2: box.bottom, stroke: "#f00", "stroke-width": 4.5, "stroke-dasharray": "23 7"});
  
  
  const sp = add(g, "g", {});
  
  
  drawSpines(sp, box, 5, 2.5, "#444");
  drawLogTicks(g, box, X, withLabels, 37, 26, 1190, -17);
}
drawPanelB("panelB1", "clipB1", {left: 2164, right: 3487, top: 26, bottom: 547}, 0.3617, -0.041, b1Ticks, b1TickLabels, true, b1Exp, b1Noise, "#ffa500", "wind-noise-line", false, 34);
drawPanelB("panelB2", "clipB2", {left: 2164, right: 3487, top: 614, bottom: 1135}, -100, -160, b2Ticks, b2TickLabels, true, b2Exp, b2Amp, "#0a820a", "amplitude-line", true, 620);

// ---------- Panel (c) ----------
(function () {
  const g = document.getElementById("panelC");
  const box = {left: 2051, right: 3508, top: 1278, bottom: 2184};
  const X = v => box.left + v * (box.right - box.left) / 20;
  const Y = linScale(box, -122.45, -157.5);
  for (let i = 0; i < cXTicks.length; i++) {
    const x = X(cXTicks[i]);
    const gl = add(g, "line", {x1: x, x2: x, y1: box.top, y2: box.bottom, stroke: "#e8e8e8", "stroke-width": 2});
    
    
    const tk = add(g, "line", {x1: x, x2: x, y1: box.bottom, y2: box.bottom + 10, stroke: "#444", "stroke-width": 2.5});
    
    
    const lb = add(g, "text", {"class": "dj", x: x, y: 2229, "font-size": 32, "text-anchor": "middle"}, cXTickLabels[i]);
    
    
  }
  for (let i = 0; i < cYTicks.length; i++) {
    const y = Y(cYTicks[i]);
    const gl = add(g, "line", {x1: box.left, x2: box.right, y1: y, y2: y, stroke: "#e8e8e8", "stroke-width": 2});
    
    
    const tk = add(g, "line", {x1: box.left - 10, x2: box.left, y1: y, y2: y, stroke: "#444", "stroke-width": 2.5});
    
    
    const lb = add(g, "text", {"class": "dj", x: box.left - 11, y: y + 12, "font-size": 32, "text-anchor": "end"}, cYTickLabels[i]);
    
    
  }
  const plot = add(g, "g", {"clip-path": "url(#clipC)"});
  
  
  for (let i = 0; i < cWind.length; i++) {
    if (cUpper[i] === null || cLower[i] === null) continue;
    const x = X(cWind[i]);
    const bar = add(plot, "line", {x1: x, x2: x, y1: Y(cUpper[i]), y2: Y(cLower[i]), stroke: "#444", "stroke-width": 2.5});
    
    
    const capT = add(plot, "line", {x1: x - 10, x2: x + 10, y1: Y(cUpper[i]), y2: Y(cUpper[i]), stroke: "#333", "stroke-width": 2.5});
    
    
    const capB = add(plot, "line", {x1: x - 10, x2: x + 10, y1: Y(cLower[i]), y2: Y(cLower[i]), stroke: "#333", "stroke-width": 2.5});
    
    
  }
  for (let i = 0; i < cWind.length; i++) {
    const x = X(cWind[i]), y = Y(cP5[i]);
    const tri = add(plot, "polygon", {points: x + "," + (y - 12) + " " + (x + 12) + "," + (y + 10) + " " + (x - 12) + "," + (y + 10), fill: "#f00"});
    
    
  }
  const fit = add(plot, "line", {x1: X(cFitRange[0]), x2: X(cFitRange[1]), y1: Y(cFitSlope * cFitRange[0] + cFitIntercept), y2: Y(cFitSlope * cFitRange[1] + cFitIntercept), stroke: "#f00", "stroke-width": 5.5, "stroke-dasharray": "21 8"});
  
  
  for (let i = 0; i < cWind.length; i++) {
    const dot = add(plot, "circle", {cx: X(cWind[i]), cy: Y(cMean[i]), r: 11, fill: "#000"});
    
    
  }
  drawSpines(g, box, 3, 3, "#555");
})();
</script>
</body></html>
